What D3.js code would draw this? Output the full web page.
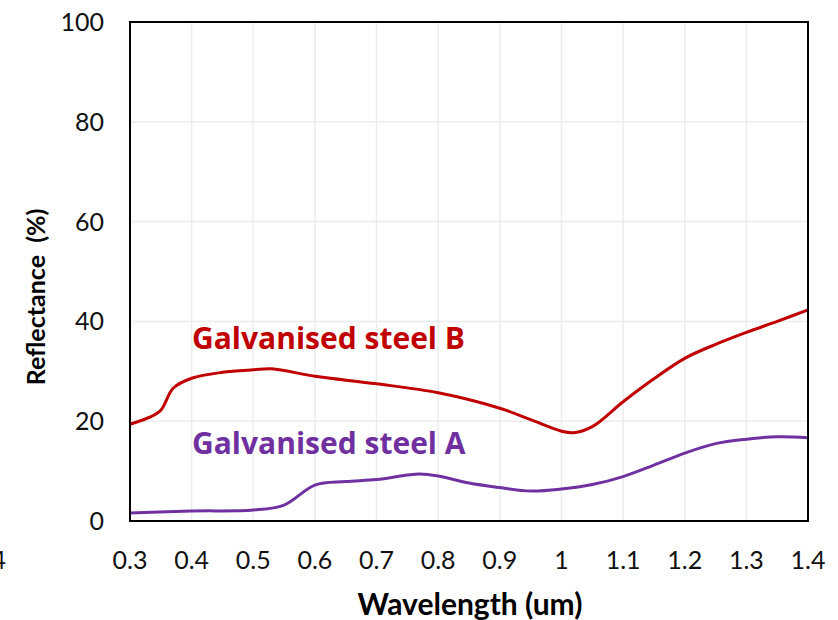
<!DOCTYPE html>
<html>
<head>
<meta charset="utf-8">
<script src="https://cdn.jsdelivr.net/npm/d3@7"></script>
<style>
  html, body { margin: 0; padding: 0; background: #fff; }
  svg text { font-family: Lato, "Open Sans", sans-serif; }
  svg text.series { font-family: "Open Sans", sans-serif; }
</style>
</head>
<body>
<div id="chart"></div>
<script>
// wavelength (um)
const wavelength = [0.3, 0.33, 0.35, 0.37, 0.4, 0.45, 0.5, 0.53, 0.6, 0.7, 0.8, 0.9, 0.95, 1.0, 1.02, 1.05, 1.1, 1.15, 1.2, 1.25, 1.3, 1.35, 1.4];
// reflectance (%) galvanised steel B
const steelB = [19.4, 20.7, 22.2, 26.6, 28.6, 29.8, 30.3, 30.5, 29.0, 27.5, 25.7, 22.6, 20.3, 18.0, 17.7, 18.9, 23.9, 28.5, 32.6, 35.4, 37.8, 40.0, 42.3];

const wavelengthA = [0.3, 0.4, 0.5, 0.55, 0.6, 0.65, 0.7, 0.75, 0.77, 0.8, 0.85, 0.9, 0.95, 1.0, 1.05, 1.1, 1.15, 1.2, 1.25, 1.3, 1.35, 1.4];
// reflectance (%) galvanised steel A
const steelA = [1.6, 2.0, 2.2, 3.2, 7.2, 7.9, 8.3, 9.2, 9.4, 9.0, 7.6, 6.7, 6.0, 6.4, 7.3, 8.9, 11.2, 13.6, 15.5, 16.4, 16.9, 16.7];

const xTicks = [0.3, 0.4, 0.5, 0.6, 0.7, 0.8, 0.9, 1, 1.1, 1.2, 1.3, 1.4];
const yTicks = [0, 20, 40, 60, 80, 100];

const W = 838, H = 620;
const margin = {top: 22, right: 30, bottom: 99, left: 130};

const svg = d3.select("#chart").append("svg")
  .attr("width", W).attr("height", H);

const x = d3.scaleLinear().domain([0.3, 1.4]).range([margin.left, W - margin.right]);
const y = d3.scaleLinear().domain([0, 100]).range([H - margin.bottom, margin.top]);

// grid
svg.append("g").selectAll("line").data(xTicks.slice(1, -1)).join("line")
  .attr("x1", d => x(d)).attr("x2", d => x(d))
  .attr("y1", y(0)).attr("y2", y(100))
  .attr("stroke", "#ececec").attr("stroke-width", 1.5);
svg.append("g").selectAll("line").data(yTicks.slice(1, -1)).join("line")
  .attr("x1", x(0.3)).attr("x2", x(1.4))
  .attr("y1", d => y(d)).attr("y2", d => y(d))
  .attr("stroke", "#ececec").attr("stroke-width", 1.5);

// tick labels
svg.append("g").selectAll("text").data(yTicks).join("text")
  .attr("x", x(0.3) - 26).attr("y", d => y(d))
  .attr("dy", "0.36em").attr("text-anchor", "end")
  .attr("font-size", 25).attr("fill", "#111")
  .text(d => d);
svg.append("g").selectAll("text").data(xTicks).join("text")
  .attr("x", d => x(d)).attr("y", y(0) + 48)
  .attr("text-anchor", "middle")
  .attr("font-size", 25).attr("fill", "#111")
  .text(d => d);

// stray clipped label at left edge
svg.append("text").attr("x", 6).attr("y", y(0) + 48)
  .attr("text-anchor", "end").attr("font-size", 25).attr("fill", "#111").text("4");

// lines
const line = d3.line().curve(d3.curveCatmullRom.alpha(0.5));
svg.append("path")
  .attr("d", line(wavelength.map((w, i) => [x(w), y(steelB[i])])))
  .attr("fill", "none").attr("stroke", "#c00000").attr("stroke-width", 3);
svg.append("path")
  .attr("d", line(wavelengthA.map((w, i) => [x(w), y(steelA[i])])))
  .attr("fill", "none").attr("stroke", "#7030a0").attr("stroke-width", 3);

// frame
svg.append("rect")
  .attr("x", x(0.3)).attr("y", y(100))
  .attr("width", x(1.4) - x(0.3)).attr("height", y(0) - y(100))
  .attr("fill", "none").attr("stroke", "#000").attr("stroke-width", 2);

// series labels
svg.append("text").attr("class", "series").attr("x", 192).attr("y", 349)
  .attr("font-size", 30).attr("font-weight", "bold").attr("fill", "#c00000")
  .text("Galvanised steel B");
svg.append("text").attr("class", "series").attr("x", 192).attr("y", 454)
  .attr("font-size", 30).attr("font-weight", "bold").attr("fill", "#7030a0")
  .text("Galvanised steel A");

// axis titles
svg.append("text").attr("x", 470).attr("y", 615)
  .attr("text-anchor", "middle").attr("font-size", 30).attr("font-weight", "bold")
  .text("Wavelength (um)");
svg.append("text")
  .attr("transform", "translate(45,297) rotate(-90)")
  .attr("text-anchor", "middle").attr("font-size", 25).attr("font-weight", "bold")
  .style("white-space", "pre")
  .text("Reflectance  (%)");
</script>
</body>
</html>
